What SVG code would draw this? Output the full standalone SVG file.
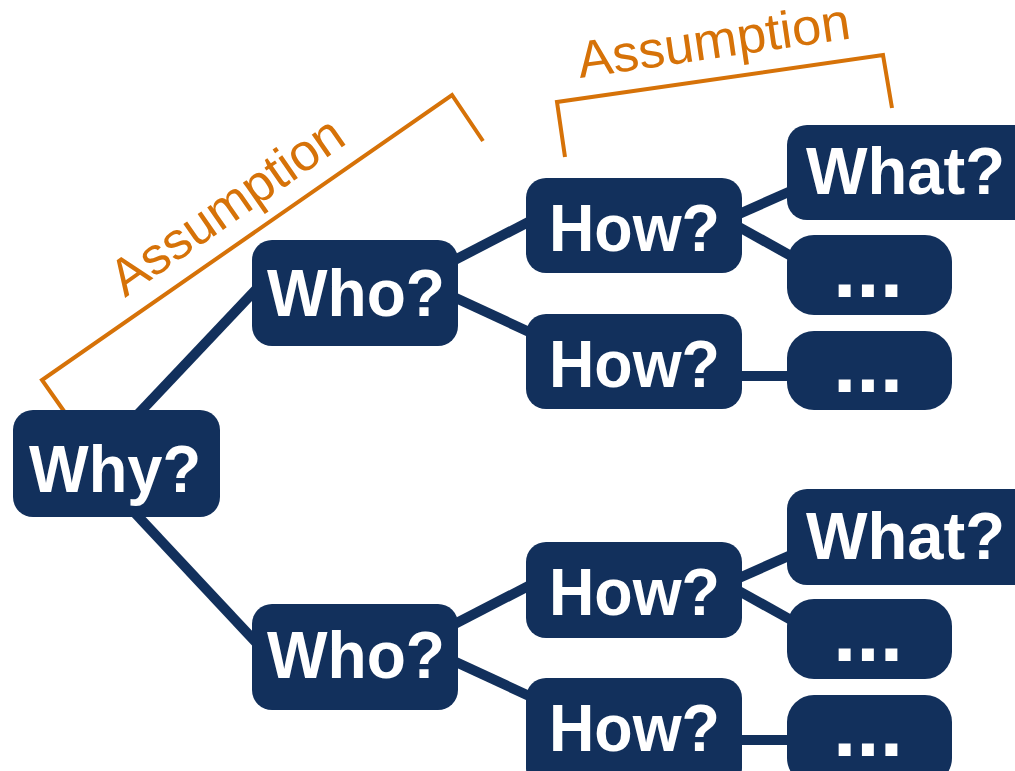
<svg xmlns="http://www.w3.org/2000/svg" width="1015" height="771" viewBox="0 0 1015 771">
<style>
.n{fill:#12305C}
.t{fill:#ffffff;font-family:"Liberation Sans",Arial,sans-serif;font-weight:bold;font-size:67px}
.d{fill:#ffffff;font-family:"Liberation Sans",Arial,sans-serif;font-weight:bold;font-size:84px}
.c{stroke:#12305C;stroke-width:10;fill:none}
.b{stroke:#D67208;stroke-width:4;fill:none;stroke-linejoin:miter}
.a{fill:#D67208;font-family:"Liberation Sans",Arial,sans-serif;font-size:52px}
</style>
<rect width="1015" height="771" fill="#ffffff"/>
<g id="brackets">
<polyline class="b" points="66,414 42,380 452,95 483,141"/>
<polyline class="b" points="565,157 557,102 883,55 892,108"/>
<text class="a" transform="translate(125,298) rotate(-34.8)" textLength="272" lengthAdjust="spacingAndGlyphs">Assumption</text>
<text class="a" transform="translate(580,78) rotate(-8.3)" textLength="275" lengthAdjust="spacingAndGlyphs">Assumption</text>
</g>
<g id="connectors">
<line class="c" x1="125" y1="428" x2="265" y2="280"/>
<line class="c" x1="120" y1="497" x2="265" y2="652"/>
<line class="c" x1="445" y1="265" x2="540" y2="216"/>
<line class="c" x1="445" y1="293" x2="540" y2="337"/>
<line class="c" x1="445" y1="629" x2="540" y2="580"/>
<line class="c" x1="445" y1="657" x2="540" y2="701"/>
<line class="c" x1="730" y1="218" x2="800" y2="187"/>
<line class="c" x1="730" y1="222" x2="800" y2="261"/>
<line class="c" x1="730" y1="376" x2="800" y2="376"/>
<line class="c" x1="730" y1="582" x2="800" y2="551"/>
<line class="c" x1="730" y1="586" x2="800" y2="625"/>
<line class="c" x1="730" y1="740" x2="800" y2="740"/>
</g>
<g id="why"><rect class="n" x="13" y="410" width="207" height="107" rx="20"/><text class="t" x="29" y="492" textLength="172" lengthAdjust="spacingAndGlyphs">Why?</text></g>
<g id="who1"><rect class="n" x="252" y="240" width="206" height="106" rx="20"/><text class="t" x="267" y="316" textLength="178" lengthAdjust="spacingAndGlyphs">Who?</text></g>
<g id="who2"><rect class="n" x="252" y="604" width="206" height="106" rx="20"/><text class="t" x="267" y="678" textLength="178" lengthAdjust="spacingAndGlyphs">Who?</text></g>
<g id="how1"><rect class="n" x="526" y="178" width="216" height="95" rx="20"/><text class="t" x="549" y="251" textLength="171" lengthAdjust="spacingAndGlyphs">How?</text></g>
<g id="how2"><rect class="n" x="526" y="314" width="216" height="95" rx="20"/><text class="t" x="549" y="387" textLength="171" lengthAdjust="spacingAndGlyphs">How?</text></g>
<g id="how3"><rect class="n" x="526" y="542" width="216" height="96" rx="20"/><text class="t" x="549" y="615" textLength="171" lengthAdjust="spacingAndGlyphs">How?</text></g>
<g id="how4"><rect class="n" x="526" y="678" width="216" height="110" rx="20"/><text class="t" x="549" y="751" textLength="171" lengthAdjust="spacingAndGlyphs">How?</text></g>
<g id="what1"><rect class="n" x="787" y="125" width="250" height="95" rx="20"/><text class="t" x="806" y="194" textLength="199" lengthAdjust="spacingAndGlyphs">What?</text></g>
<g id="what2"><rect class="n" x="787" y="489" width="250" height="96" rx="20"/><text class="t" x="806" y="559" textLength="199" lengthAdjust="spacingAndGlyphs">What?</text></g>
<g id="more1"><rect class="n" x="787" y="235" width="165" height="80" rx="27"/><text class="d" x="833" y="297">...</text></g>
<g id="more2"><rect class="n" x="787" y="331" width="165" height="79" rx="27"/><text class="d" x="833" y="392">...</text></g>
<g id="more3"><rect class="n" x="787" y="599" width="165" height="80" rx="27"/><text class="d" x="833" y="661">...</text></g>
<g id="more4"><rect class="n" x="787" y="695" width="165" height="90" rx="27"/><text class="d" x="833" y="756">...</text></g>
</svg>
